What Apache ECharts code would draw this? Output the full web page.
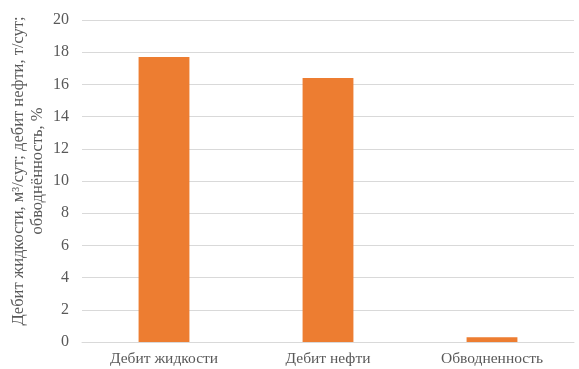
<!DOCTYPE html>
<html>
<head>
<meta charset="utf-8">
<script src="https://cdn.jsdelivr.net/npm/echarts@6/dist/echarts.min.js"></script>
<style>
  html, body { margin: 0; padding: 0; background: #fff; }
  #chart { width: 579px; height: 369px; }
</style>
</head>
<body>
<div id="chart"></div>
<script>
// Indicators of the well
const categories = ['Дебит жидкости', 'Дебит нефти', 'Обводненность'];
const values = [17.7, 16.4, 0.3];
const yTicks = { min: 0, max: 20, interval: 2 };
const yTitle = 'Дебит жидкости, м³/сут; дебит нефти, т/сут;\nобводнённость, %';

const chart = echarts.init(document.getElementById('chart'));
const textColor = '#595959';
const font = 'Liberation Serif';

chart.setOption({
  animation: false,
  grid: { left: 82, right: 5, top: 20, bottom: 27, containLabel: false, outerBoundsMode: 'none' },
  graphic: [{
    type: 'text',
    x: 28.5,
    y: 171,
    rotation: Math.PI / 2,
    style: {
      text: yTitle,
      fill: textColor,
      font: '16.5px "Liberation Serif"',
      lineHeight: 19,
      align: 'center',
      verticalAlign: 'middle'
    }
  }],
  xAxis: {
    type: 'category',
    data: categories,
    axisTick: { show: false },
    axisLine: { lineStyle: { color: '#D9D9D9' } },
    axisLabel: { color: textColor, fontFamily: font, fontSize: 15.5, margin: 9 }
  },
  yAxis: {
    type: 'value',
    min: yTicks.min,
    max: yTicks.max,
    interval: yTicks.interval,
    axisLine: { show: false },
    axisTick: { show: false },
    splitLine: { lineStyle: { color: '#D9D9D9' } },
    axisLabel: { color: textColor, fontFamily: font, fontSize: 16, margin: 13 }
  },
  series: [{
    type: 'bar',
    data: values,
    barWidth: '31%',
    itemStyle: { color: '#ED7D31' }
  }]
});
</script>
</body>
</html>
